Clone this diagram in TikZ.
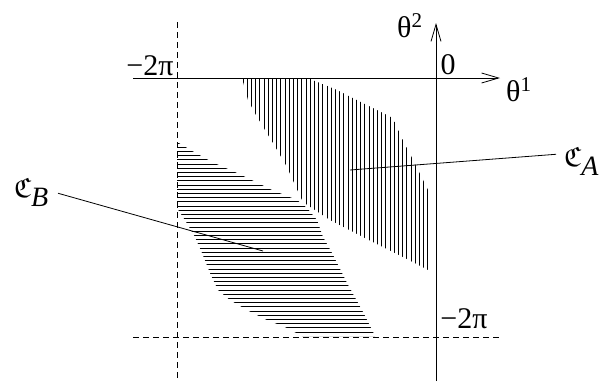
\documentclass[tikz,border=0pt]{standalone}
\usepackage{fontspec}
\setmainfont{Liberation Serif}
\usepackage{amssymb}
\usetikzlibrary{arrows.meta}

\tikzset{
  axis/.style={line width=0.8pt, -{Straight Barb[length=17pt,width=10pt,line width=0.8pt]}},
  guide/.style={line width=0.8pt, dash pattern=on 6pt off 4pt},
  hatch/.style={line width=1pt},
  leader/.style={line width=0.8pt},
  lbl/.style={inner sep=0pt, font=\fontsize{30}{36}\selectfont},
  setlbl/.style={inner sep=0pt, font=\fontsize{28}{34}\selectfont},
}

\begin{document}
\begin{tikzpicture}[x=1pt,y=-1pt]
  \useasboundingbox (0,0) rectangle (602,381);

  % region A, vertical hatching
  \begin{scope}
    \clip (242,78) -- (308,78) -- (337,90) -- (393,118) -- (403,140) -- (428,190)
      -- (432,198) -- (432,272) -- (403,257) -- (363,237) -- (330,220) -- (303,202)
      -- (295,185) -- (287,167) -- (273,143) -- (265,130) -- (256,115) -- (248,100) -- cycle;
    \foreach \x in {243,247.2,...,434}
      \draw[hatch] (\x,76) -- (\x,275);
  \end{scope}

  % region B, horizontal hatching
  \begin{scope}
    \clip (177,142) -- (194,152) -- (212,162) -- (237,173) -- (262,185) -- (272,190)
      -- (297,200) -- (307,208) -- (317,220) -- (323,237) -- (332,253) -- (347,283)
      -- (363,312) -- (375,336) -- (302,336) -- (285,327) -- (267,320) -- (247,310)
      -- (230,300) -- (218,290) -- (210,273) -- (202,253) -- (195,237) -- (185,220)
      -- (177,208) -- cycle;
    \foreach \y in {143,147.2,...,338}
      \draw[hatch] (175,\y) -- (380,\y);
  \end{scope}

  % axes and the -2pi guides
  \coordinate (hstart) at (133,78);
  \coordinate (hend) at (500,78);
  \coordinate (vstart) at (436,381);
  \coordinate (vend) at (436,23);
  \draw[axis] (hstart) -- (hend);
  \draw[axis] (vstart) -- (vend);

  \coordinate (gvtop) at (177,22);
  \coordinate (gvbot) at (177,381);
  \coordinate (ghleft) at (133,337);
  \coordinate (ghright) at (500,337);
  \draw[guide] (gvtop) -- (gvbot);
  \draw[guide] (ghleft) -- (ghright);

  \node[lbl, anchor=base] (mtwopiA) at (150,75) {−2π};
  \node[lbl, anchor=base] (zero) at (448,74) {0};
  \node[lbl, anchor=base west] (thone) at (506,101) {θ\textsuperscript{1}};
  \node[lbl, anchor=base west] (thtwo) at (397,37) {θ\textsuperscript{2}};
  \node[lbl, anchor=base] (mtwopiB) at (464,328) {−2π};

  \node[setlbl, anchor=base west] (labA) at (564,166) {$\mathfrak{C}_{\textit{A}}$};
  \node[setlbl, anchor=base east] (labB) at (49,197) {$\mathfrak{C}_{\textit{B}}$};

  \coordinate (tipA) at (350,170);
  \coordinate (tipB) at (263,251);
  \draw[leader] ([xshift=-8pt,yshift=7pt]labA.west) -- (tipA);
  \draw[leader] ([xshift=9pt,yshift=-1pt]labB.east) -- (tipB);

\end{tikzpicture}
\end{document}
